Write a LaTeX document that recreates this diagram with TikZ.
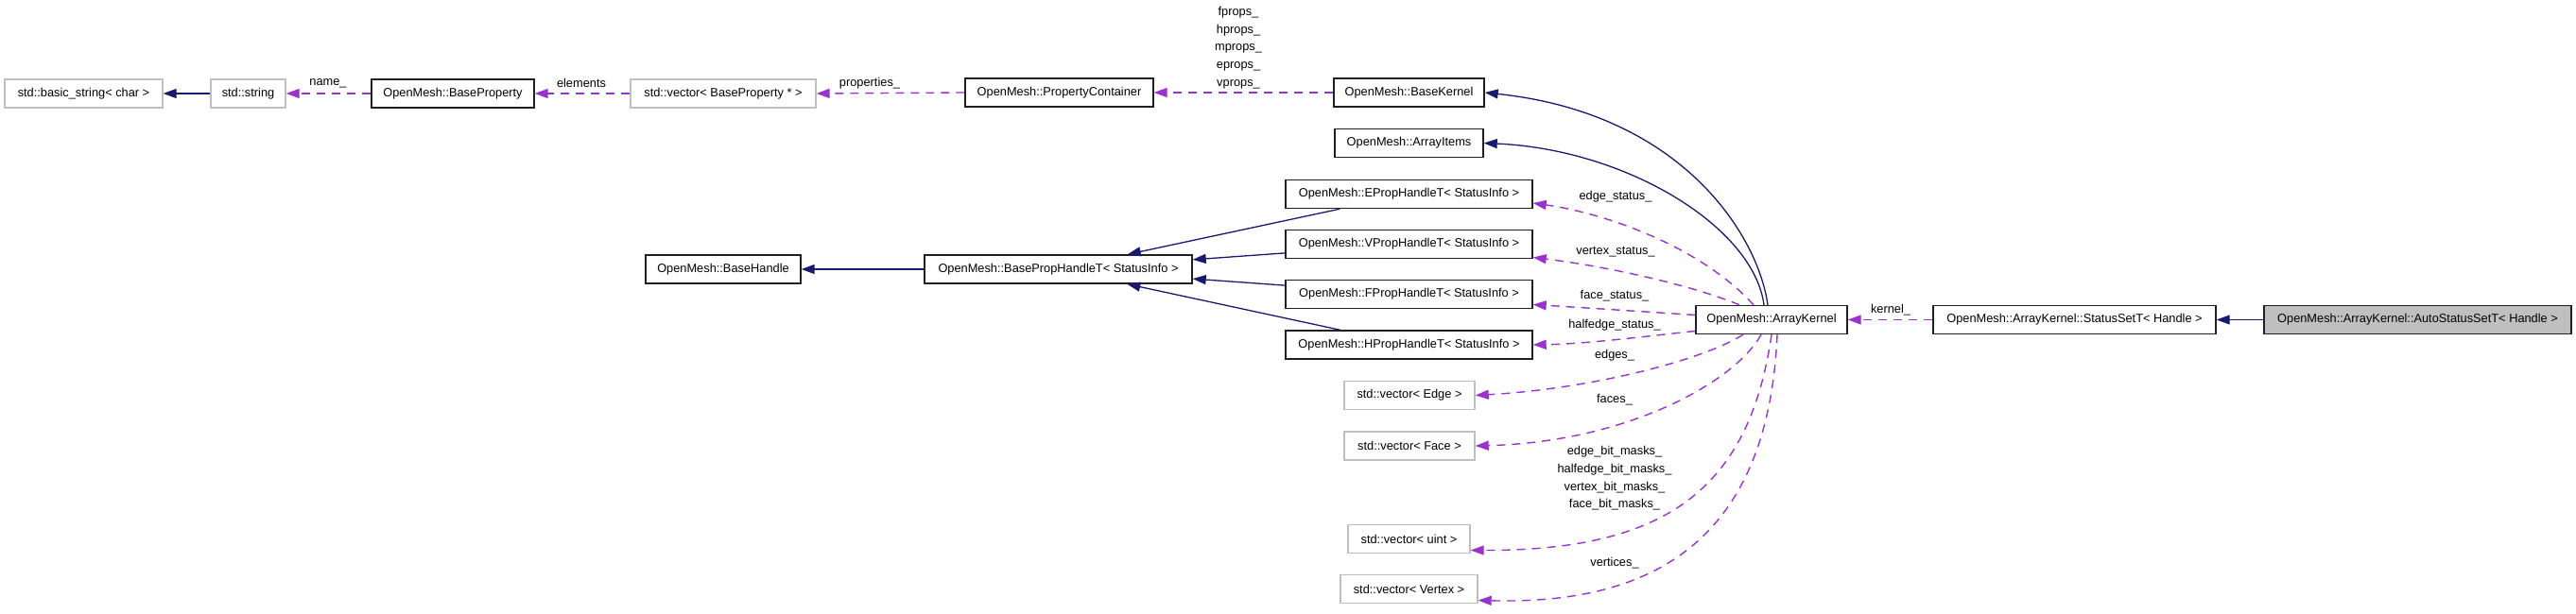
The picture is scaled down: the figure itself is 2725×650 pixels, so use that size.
\documentclass[tikz,border=0pt]{standalone}
\usepackage{fontspec}
\setmainfont{Liberation Sans}
\usetikzlibrary{arrows.meta}
\definecolor{navyedge}{HTML}{191970}
\definecolor{purpleedge}{HTML}{9A32CD}
\definecolor{greybox}{HTML}{BFBFBF}
\definecolor{boxline}{HTML}{202020}
\begin{document}
\begin{tikzpicture}[x=1pt,y=-1pt,
  every node/.style={font=\fontsize{12.8}{18.6}\selectfont, inner sep=0pt},
  cls/.style={draw=boxline, line width=1.4pt, fill=white, minimum height=30pt},
  ext/.style={draw=greybox, line width=1.4pt, fill=white, minimum height=30pt},
  cur/.style={draw=boxline, line width=1.4pt, fill=greybox, minimum height=30pt},
  inh/.style={draw=navyedge, line width=1.3pt, -{Triangle[length=14pt,width=10pt]}},
  use/.style={draw=purpleedge, line width=1.4pt, dash pattern=on 9pt off 7pt, -{Triangle[length=14pt,width=10pt]}},
  lbl/.style={align=center}
]
\useasboundingbox (0,0) rectangle (2725,650);
% nodes
\node[ext, minimum width=167pt] (bstr) at (88.5,99) {std::basic\_string< char >};
\node[ext, minimum width=79pt] (str) at (262.5,99) {std::string};
\node[cls, minimum width=172pt] (bprop) at (479,99) {OpenMesh::BaseProperty};
\node[ext, minimum width=196pt] (vecbp) at (765,99) {std::vector< BaseProperty * >};
\node[cls, minimum width=199pt] (pcont) at (1120.5,98) {OpenMesh::PropertyContainer};
\node[cls, minimum width=159pt] (bkernel) at (1490.5,98) {OpenMesh::BaseKernel};
\node[cls, minimum width=157pt] (aitems) at (1490.5,151.5) {OpenMesh::ArrayItems};
\node[cls, minimum width=164pt] (bhandle) at (765,285) {OpenMesh::BaseHandle};
\node[cls, minimum width=283pt] (bph) at (1119.5,285) {OpenMesh::BasePropHandleT< StatusInfo >};
\node[cls, minimum width=261pt] (eph) at (1490.5,205.5) {OpenMesh::EPropHandleT< StatusInfo >};
\node[cls, minimum width=261pt] (vph) at (1490.5,258.5) {OpenMesh::VPropHandleT< StatusInfo >};
\node[cls, minimum width=261pt] (fph) at (1490.5,311.5) {OpenMesh::FPropHandleT< StatusInfo >};
\node[cls, minimum width=261pt] (hph) at (1490.5,365) {OpenMesh::HPropHandleT< StatusInfo >};
\node[ext, minimum width=138pt] (vedge) at (1491,418.5) {std::vector< Edge >};
\node[ext, minimum width=138pt] (vface) at (1491,472) {std::vector< Face >};
\node[ext, minimum width=129pt] (vuint) at (1490.5,570.5) {std::vector< uint >};
\node[ext, minimum width=145pt] (vvert) at (1490.5,623.5) {std::vector< Vertex >};
\node[cls, minimum width=160pt] (akernel) at (1874,338.5) {OpenMesh::ArrayKernel};
\node[cls, minimum width=299pt] (sset) at (2194.5,338.5) {OpenMesh::ArrayKernel::StatusSetT< Handle >};
\node[cur, minimum width=325pt] (auto) at (2557.5,338.5) {OpenMesh::ArrayKernel::AutoStatusSetT< Handle >};
% inheritance edges
\draw[inh] (str.west) -- (bstr.east);
\draw[inh] (bph.west) -- (bhandle.east);
\draw[inh] (eph) -- (bph);
\draw[inh] (vph) -- (bph);
\draw[inh] (fph) -- (bph);
\draw[inh] (hph) -- (bph);
\draw[inh] (auto.west) -- (sset.east);
\draw[inh] ([xshift=-4pt]akernel.north) .. controls (1860,250) and (1780,120) .. (bkernel.east);
\draw[inh] ([xshift=-8pt]akernel.north) .. controls (1855,240) and (1720,158) .. (aitems.east);
% usage edges
\draw[use] (bprop.west) -- (str.east);
\draw[use] (vecbp.west) -- (bprop.east);
\draw[use] (pcont.west) -- (vecbp.east);
\draw[use] (bkernel.west) -- (pcont.east);
\draw[use] (sset.west) -- (akernel.east);
\draw[use] ([xshift=-19pt]akernel.north) .. controls (1800,262) and (1700,226) .. ([yshift=-9.5pt]eph.east);
\draw[use] ([xshift=-34pt]akernel.north) .. controls (1790,302) and (1700,282) .. ([yshift=-14pt]vph.east);
\draw[use] ([yshift=5pt]akernel.west) .. controls (1740,330) and (1680,326) .. ([yshift=-11pt]fph.east);
\draw[use] ([yshift=-12pt]akernel.west) .. controls (1740,356) and (1680,364) .. (hph.east);
\draw[use] ([xshift=-30pt]akernel.south) .. controls (1800,382) and (1680,412) .. (vedge.east);
\draw[use] ([xshift=-11pt]akernel.south) .. controls (1835,405) and (1720,468) .. (vface.east);
\draw[use] (akernel.south) .. controls (1850,520) and (1760,583) .. ([yshift=-12pt]vuint.east);
\draw[use] ([xshift=6pt]akernel.south) .. controls (1870,580) and (1740,640) .. ([yshift=-12pt]vvert.east);
% labels
\node[lbl] (lname) at (347,88) {name\_};
\node[lbl] (lelem) at (615,88) {elements};
\node[lbl] (lprops) at (920,88) {properties\_};
\node[lbl] (lkprops) at (1310,50.5) {fprops\_\\hprops\_\\mprops\_\\eprops\_\\vprops\_};
\node[lbl] (lkernel) at (2000,328) {kernel\_};
\node[lbl] (les) at (1709,208) {edge\_status\_};
\node[lbl] (lvs) at (1709,267) {vertex\_status\_};
\node[lbl] (lfs) at (1708,313) {face\_status\_};
\node[lbl] (lhs) at (1708,344) {halfedge\_status\_};
\node[lbl] (led) at (1708,376) {edges\_};
\node[lbl] (lfa) at (1708,423) {faces\_};
\node[lbl] (lbm) at (1708,506.5) {edge\_bit\_masks\_\\halfedge\_bit\_masks\_\\vertex\_bit\_masks\_\\face\_bit\_masks\_};
\node[lbl] (lve) at (1708,596) {vertices\_};
\end{tikzpicture}
\end{document}
